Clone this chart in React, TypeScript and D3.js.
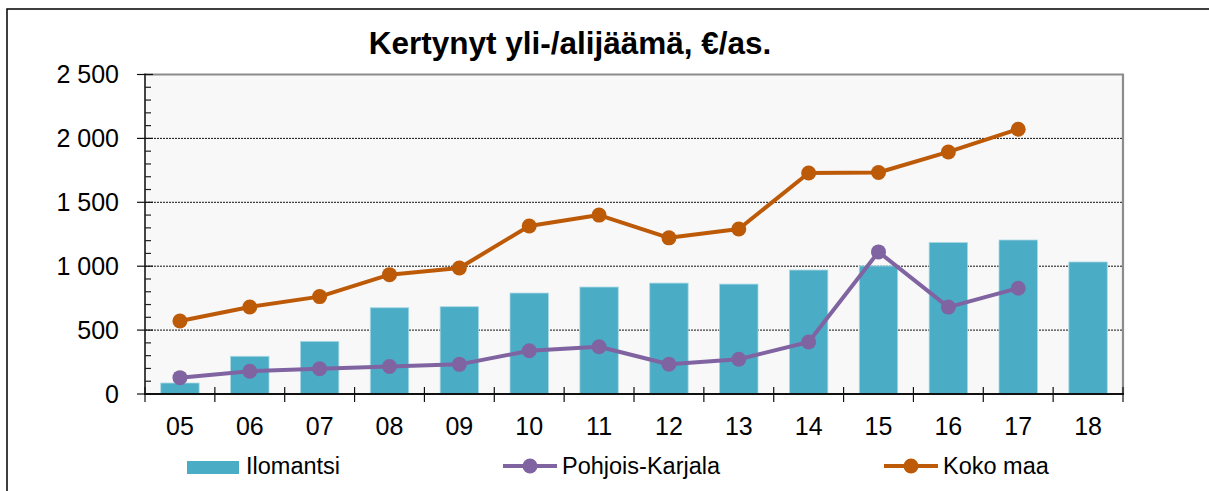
import React, { useEffect, useRef } from 'react';
import * as d3 from 'd3';

// vuodet 2005-2018
const years = ['05', '06', '07', '08', '09', '10', '11', '12', '13', '14', '15', '16', '17', '18'];
const ilomantsi = [86, 295, 412, 675, 683, 790, 837, 868, 860, 970, 1002, 1185, 1205, 1033];
const pohjoisKarjala = [128, 178, 198, 215, 232, 338, 370, 233, 272, 407, 1112, 680, 828, null];
const kokoMaa = [571, 681, 762, 934, 986, 1315, 1400, 1222, 1291, 1729, 1733, 1894, 2072, null];
const yTicks = [0, 500, 1000, 1500, 2000, 2500];

const W = 1209;
const H = 491;
const FONT = "'Liberation Sans', Arial, sans-serif";

const App = () => {
  const ref = useRef<SVGSVGElement>(null);

  useEffect(() => {
    const svg = d3.select(ref.current);
    svg.selectAll('*').remove();

    const left = 145, right = 1123, top = 74.5, bottom = 394;

    const x = d3.scaleBand().domain(years).range([left, right]).paddingInner(0.45).paddingOuter(0.225);
    const y = d3.scaleLinear().domain([0, 2500]).range([bottom, top]);
    const cx = (d: string) => x(d)! + x.bandwidth() / 2;
    const step = x.step();

    // outer frame
    svg.append('rect')
      .attr('x', 7).attr('y', 9).attr('width', W).attr('height', H)
      .attr('fill', 'white').attr('stroke', 'black').attr('stroke-width', 1.5);

    // plot background
    svg.append('rect')
      .attr('x', left).attr('y', top).attr('width', right - left).attr('height', bottom - top)
      .attr('fill', '#f8f8f8');

    // grid
    svg.append('g')
      .selectAll('line')
      .data(yTicks.filter(t => t > 0 && t < 2500))
      .join('line')
        .attr('x1', left).attr('x2', right)
        .attr('y1', d => y(d)).attr('y2', d => y(d))
        .attr('stroke', '#111').attr('stroke-width', 1).attr('stroke-dasharray', '2,1');

    // bars
    svg.append('g')
      .selectAll('rect')
      .data(years)
      .join('rect')
        .attr('x', d => x(d)!)
        .attr('y', (d, i) => y(ilomantsi[i]))
        .attr('width', x.bandwidth())
        .attr('height', (d, i) => bottom - y(ilomantsi[i]))
        .attr('fill', '#4bacc6')
        .attr('stroke', '#a8d8e4').attr('stroke-width', 0.8);

    // top/right border
    svg.append('path')
      .attr('d', `M${left},${top}H${right}V${bottom}`)
      .attr('fill', 'none').attr('stroke', '#8c8c8c').attr('stroke-width', 2.2);

    // lines
    const drawSeries = (vals: (number | null)[], color: string) => {
      const pts = years.map((d, i) => ({ d, v: vals[i] })).filter(p => p.v != null) as { d: string; v: number }[];
      const line = d3.line<{ d: string; v: number }>().x(p => cx(p.d)).y(p => y(p.v));
      svg.append('path')
        .attr('d', line(pts))
        .attr('fill', 'none').attr('stroke', color).attr('stroke-width', 4)
        .attr('stroke-linejoin', 'round');
      svg.append('g')
        .selectAll('circle')
        .data(pts)
        .join('circle')
          .attr('cx', p => cx(p.d)).attr('cy', p => y(p.v)).attr('r', 7.5)
          .attr('fill', color);
    };
    drawSeries(pohjoisKarjala, '#8064a2');
    drawSeries(kokoMaa, '#bd5a08');

    // y axis
    svg.append('line')
      .attr('x1', left).attr('x2', left).attr('y1', top - 1).attr('y2', bottom)
      .attr('stroke', '#444').attr('stroke-width', 2);
    svg.append('g')
      .selectAll('line')
      .data(d3.range(100, 2500, 100).filter(v => v % 500 !== 0))
      .join('line')
        .attr('x1', left).attr('x2', left + 6)
        .attr('y1', d => y(d)).attr('y2', d => y(d))
        .attr('stroke', '#222').attr('stroke-width', 1.2);
    svg.append('g')
      .selectAll('line')
      .data(yTicks)
      .join('line')
        .attr('x1', left - 8).attr('x2', left + 8)
        .attr('y1', d => y(d)).attr('y2', d => y(d))
        .attr('stroke', '#111').attr('stroke-width', 1.2);
    svg.append('g')
      .attr('font-family', FONT).attr('font-size', 25).attr('text-anchor', 'end')
      .selectAll('text')
      .data(yTicks)
      .join('text')
        .attr('x', 119).attr('y', d => y(d) + 8.8)
        .text(d => d3.format(',')(d).replace(',', '\u00a0'));

    // x axis
    svg.append('line')
      .attr('x1', left - 1).attr('x2', right + 1).attr('y1', bottom).attr('y2', bottom)
      .attr('stroke', '#111').attr('stroke-width', 2);
    svg.append('g')
      .selectAll('line')
      .data(d3.range(years.length + 1))
      .join('line')
        .attr('x1', i => left + i * step).attr('x2', i => left + i * step)
        .attr('y1', bottom - 7).attr('y2', bottom + 8)
        .attr('stroke', '#111').attr('stroke-width', 1.2);
    svg.append('g')
      .attr('font-family', FONT).attr('font-size', 25).attr('text-anchor', 'middle')
      .selectAll('text')
      .data(years)
      .join('text')
        .attr('x', d => cx(d)).attr('y', 435)
        .text(d => d);

    // title
    svg.append('text')
      .attr('x', 570).attr('y', 54)
      .attr('font-family', FONT).attr('font-size', 31.5).attr('font-weight', 'bold')
      .attr('text-anchor', 'middle')
      .text('Kertynyt yli-/alijäämä, €/as.');

    // legend
    const lg = svg.append('g').attr('font-family', FONT).attr('font-size', 23.5);
    lg.append('rect').attr('x', 187).attr('y', 461).attr('width', 52).attr('height', 13).attr('fill', '#4bacc6');
    lg.append('text').attr('x', 246).attr('y', 474).text('Ilomantsi');

    const legLine = (x0: number, color: string, label: string) => {
      lg.append('line').attr('x1', x0).attr('x2', x0 + 54).attr('y1', 466).attr('y2', 466)
        .attr('stroke', color).attr('stroke-width', 4);
      lg.append('circle').attr('cx', x0 + 27).attr('cy', 466).attr('r', 7.5).attr('fill', color);
      lg.append('text').attr('x', x0 + 59).attr('y', 474).text(label);
    };
    legLine(503, '#8064a2', 'Pohjois-Karjala');
    legLine(884, '#bd5a08', 'Koko maa');
  }, []);

  return (
    <svg ref={ref} width={W} height={H} style={{ position: 'absolute', left: 0, top: 0, background: 'white' }} />
  );
};

export default App;
